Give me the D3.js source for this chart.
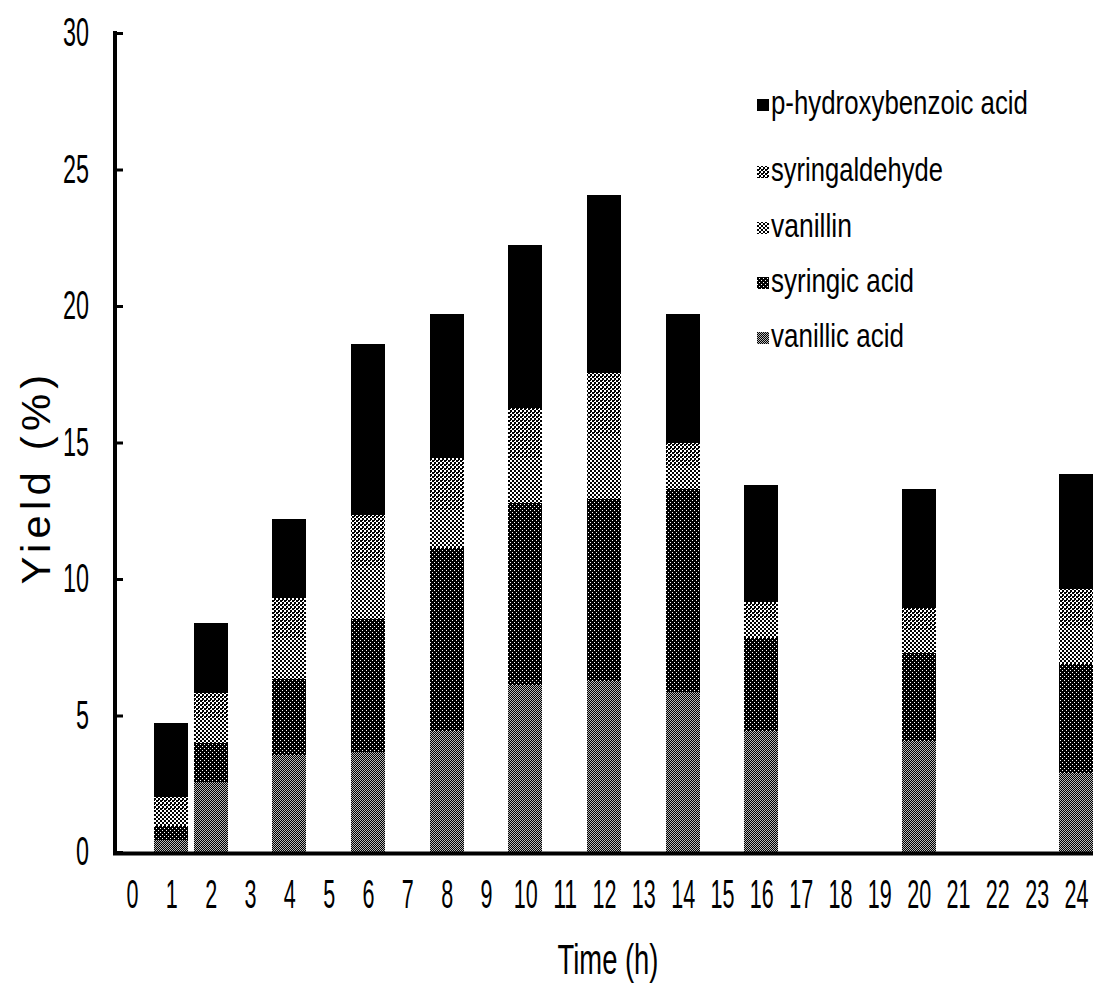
<!DOCTYPE html>
<html>
<head>
<meta charset="utf-8">
<script src="https://cdn.jsdelivr.net/npm/d3@7"></script>
<style>
  html, body { margin: 0; padding: 0; background: #fff; }
  svg { display: block; }
  text { font-family: "Liberation Sans Narrow", "Arial Narrow", "Liberation Sans", Arial, sans-serif; fill: #000; }
</style>
</head>
<body>
<svg id="chart" width="1093" height="984"></svg>
<script>
// ---- data ----
const times = [1, 2, 4, 6, 8, 10, 12, 14, 16, 20, 24];
const tickLabels = d3.range(0, 25);
const yTicks = [0, 5, 10, 15, 20, 25, 30];
const seriesNames = ["vanillic acid", "syringic acid", "vanillin", "syringaldehyde", "p-hydroxybenzoic acid"];
const vanillicAcid   = [0.45, 2.55, 3.55, 3.65, 4.45, 6.10, 6.25, 5.85, 4.45, 4.05, 2.90];
const syringicAcid   = [0.50, 1.45, 2.80, 4.90, 6.68, 6.70, 6.68, 7.45, 3.40, 3.25, 4.00];
const vanillin       = [0.50, 0.90, 1.50, 1.90, 1.43, 1.67, 2.30, 0.85, 0.65, 0.80, 1.35];
const syringaldehyde = [0.55, 0.92, 1.45, 1.90, 1.86, 1.79, 2.31, 0.85, 0.65, 0.85, 1.40];
const pHydroxybenzoicAcid = [2.72, 2.58, 2.90, 6.27, 5.28, 5.99, 6.51, 4.70, 4.30, 4.36, 4.21];
const legendOrder = ["p-hydroxybenzoic acid", "syringaldehyde", "vanillin", "syringic acid", "vanillic acid"];

// ---- build table ----
const seriesValues = {
  "vanillic acid": vanillicAcid,
  "syringic acid": syringicAcid,
  "vanillin": vanillin,
  "syringaldehyde": syringaldehyde,
  "p-hydroxybenzoic acid": pHydroxybenzoicAcid
};
const table = times.map((t, i) => {
  const row = { time: t };
  seriesNames.forEach(s => row[s] = seriesValues[s][i]);
  return row;
});
const stacked = d3.stack().keys(seriesNames)(table);

const svg = d3.select("#chart");
const defs = svg.append("defs");

function makePattern(id, size, bg, fg, rects) {
  const p = defs.append("pattern").attr("id", id)
    .attr("patternUnits", "userSpaceOnUse").attr("width", size).attr("height", size);
  p.append("rect").attr("width", size).attr("height", size).attr("fill", bg);
  rects.forEach(r => p.append("rect").attr("x", r[0]).attr("y", r[1])
    .attr("width", r[2]).attr("height", r[3]).attr("fill", fg).attr("shape-rendering", "crispEdges"));
  return `url(#${id})`;
}
const fills = {
  "vanillic acid": makePattern("pVan", 2, "#000", "#b8b8b8", [[0, 0, 1, 1], [1, 1, 1, 1]]),
  "syringic acid": makePattern("pSyr", 4, "#000", "#fff", [[0, 0, 1, 1], [2, 2, 1, 1]]),
  "vanillin": makePattern("pVnl", 4, "#fff", "#000", [[0, 0, 2, 2], [2, 2, 2, 2]]),
  "syringaldehyde": makePattern("pSya", 4, "#fff", "#000", [[0, 0, 2, 2], [2, 2, 2, 2], [2, 0, 1, 1]]),
  "p-hydroxybenzoic acid": "#000"
};

// Horizontally squeeze a text element so that it is `target` px wide.
function fit(node, target) {
  const sel = d3.select(node);
  const w = node.getComputedTextLength();
  const s = w > 0 ? target / w : 1;
  const x0 = +sel.attr("x") || 0, y0 = +sel.attr("y") || 0;
  sel.attr("x", 0).attr("y", 0)
    .attr("transform", `translate(${x0},${y0}) scale(${s},1)`);
}

// ---- scales ----
const x = d3.scaleLinear().domain([0, 24]).range([132, 1076]);
const y = d3.scaleLinear().domain([0, 30]).range([852, 33]);
const barW = 34;

// ---- bars ----
svg.append("g").selectAll("g").data(stacked).join("g")
  .attr("fill", d => fills[d.key])
  .selectAll("rect").data(d => d).join("rect")
  .attr("x", d => x(d.data.time) - barW / 2)
  .attr("width", barW)
  .attr("y", d => y(d[1]))
  .attr("height", d => y(d[0]) - y(d[1]))
  .attr("shape-rendering", "crispEdges");

// ---- y axis ----
const yAxis = svg.append("g").attr("transform", "translate(115,0)")
  .call(d3.axisLeft(y).tickValues(yTicks).tickSizeInner(-8).tickSizeOuter(0).tickPadding(26));
yAxis.select(".domain").remove();
yAxis.selectAll(".tick line").attr("stroke", "#000").attr("stroke-width", 3);
yAxis.selectAll(".tick text")
  .attr("font-size", 40).attr("font-family", null).attr("fill", "#000")
  .each(function(d) { fit(this, String(d).length * 13); });
svg.append("line").attr("x1", 115).attr("x2", 115).attr("y1", y(30) - 2).attr("y2", y(0) + 2)
  .attr("stroke", "#000").attr("stroke-width", 4);

// ---- x axis ----
const xAxis = svg.append("g").attr("transform", `translate(0,${y(0)})`)
  .call(d3.axisBottom(x).tickValues(tickLabels).tickSize(0).tickPadding(28).tickFormat(d3.format("d")));
xAxis.select(".domain").remove();
xAxis.selectAll(".tick text")
  .attr("font-size", 40).attr("font-family", null).attr("fill", "#000")
  .each(function(d) { fit(this, String(d).length * 12); });
svg.append("line").attr("x1", 113).attr("x2", 1093).attr("y1", y(0) + 1.5).attr("y2", y(0) + 1.5)
  .attr("stroke", "#000").attr("stroke-width", 4);

// ---- axis titles ----
svg.append("text").attr("x", 608).attr("y", 974).attr("text-anchor", "middle")
  .attr("font-size", 42)
  .text("Time (h)")
  .each(function() { fit(this, 101); });
const yt = svg.append("g").attr("transform", "translate(50,477) rotate(-90)");
yt.append("text").attr("x", 0).attr("y", 0).attr("text-anchor", "middle")
  .attr("font-size", 40).attr("letter-spacing", 5)
  .text("Yield (%)")
  .each(function() { fit(this, 215); });

// ---- legend ----
const legendY = [114, 181, 237, 292, 347];
const legendW = { "p-hydroxybenzoic acid": 257, "syringaldehyde": 172, "vanillin": 81, "syringic acid": 143, "vanillic acid": 133 };
const legendColor = { "p-hydroxybenzoic acid": "#000", "syringaldehyde": "#707070", "vanillin": "#a0a0a0", "syringic acid": "#111", "vanillic acid": "#222" };
const lg = svg.append("g").selectAll("g").data(legendOrder).join("g")
  .attr("transform", (d, i) => `translate(757,${legendY[i]})`);
lg.append("rect").attr("x", 0).attr("y", -15).attr("width", 12).attr("height", 12)
  .attr("fill", d => fills[d]);
lg.append("text").attr("x", 14).attr("y", 0).attr("font-size", 34)
  .attr("fill", d => legendColor[d])
  .text(d => d)
  .each(function(d) { fit(this, legendW[d]); });
</script>
</body>
</html>
